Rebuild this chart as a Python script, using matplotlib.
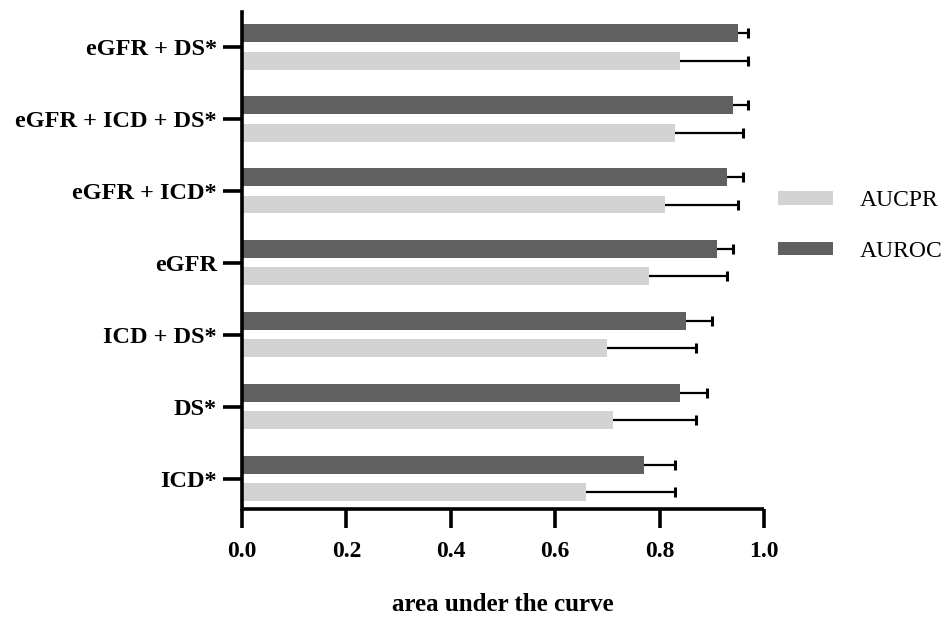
import matplotlib.pyplot as plt
import matplotlib.patches as mpatches
import numpy as np

plt.rcParams['font.family'] = ['Liberation Serif', 'DejaVu Serif']

# bottom to top
modelos = ['ICD*', 'DS*', 'ICD + DS*', 'eGFR', 'eGFR + ICD*', 'eGFR + ICD + DS*', 'eGFR + DS*']

auroc = [0.77, 0.84, 0.85, 0.91, 0.93, 0.94, 0.95]
auroc_sup = [0.83, 0.89, 0.90, 0.94, 0.96, 0.97, 0.97]

aucpr = [0.66, 0.71, 0.70, 0.78, 0.81, 0.83, 0.84]
aucpr_sup = [0.83, 0.87, 0.87, 0.93, 0.95, 0.96, 0.97]

cor_escura = '#606060'
cor_clara = '#d3d3d3'

fig = plt.figure(figsize=(9.49, 6.19), dpi=100)
ax = fig.add_axes([0.255, 0.177, 0.55, 0.804])

y = np.arange(len(modelos))
h = 0.25
off = 0.19

ax.barh(y + off, auroc, height=h, color=cor_escura)
ax.barh(y - off, aucpr, height=h, color=cor_clara)

# barras de erro so do lado direito
ax.hlines(y + off, auroc, auroc_sup, color='black', linewidth=1.6, zorder=3)
ax.hlines(y - off, aucpr, aucpr_sup, color='black', linewidth=1.6, zorder=3)
ax.plot(auroc_sup, y + off, linestyle='none', marker='|', markersize=7,
        markeredgewidth=2.2, color='black', zorder=3)
ax.plot(aucpr_sup, y - off, linestyle='none', marker='|', markersize=7,
        markeredgewidth=2.2, color='black', zorder=3)

ax.set_xlim(0, 1.0)
ax.set_ylim(-0.43, 6.49)
ax.set_yticks(y)
ax.set_yticklabels(modelos, fontsize=17.5, fontweight='bold')
ax.set_xticks([0, 0.2, 0.4, 0.6, 0.8, 1.0])
ax.set_xticklabels(['0.0', '0.2', '0.4', '0.6', '0.8', '1.0'], fontsize=17, fontweight='bold')

for s in ['top', 'right']:
    ax.spines[s].set_visible(False)
for s in ['left', 'bottom']:
    ax.spines[s].set_linewidth(2.6)
ax.spines['bottom'].set_capstyle('butt')
ax.tick_params(axis='both', width=2.6, length=14)
ax.tick_params(axis='y', pad=4)
ax.tick_params(axis='x', pad=9)

ax.set_xlabel('area under the curve', fontsize=18, fontweight='bold', labelpad=22)

# Legenda
leg_pr = mpatches.Patch(facecolor=cor_clara, label='AUCPR')
leg_roc = mpatches.Patch(facecolor=cor_escura, label='AUROC')
fig.legend(handles=[leg_pr, leg_roc], loc='center left', bbox_to_anchor=(0.7975, 0.635),
           frameon=False, fontsize=17, handlelength=2.33, handleheight=0.5,
           labelspacing=1.25, handletextpad=1.15)

plt.savefig('out.png', dpi=100)
